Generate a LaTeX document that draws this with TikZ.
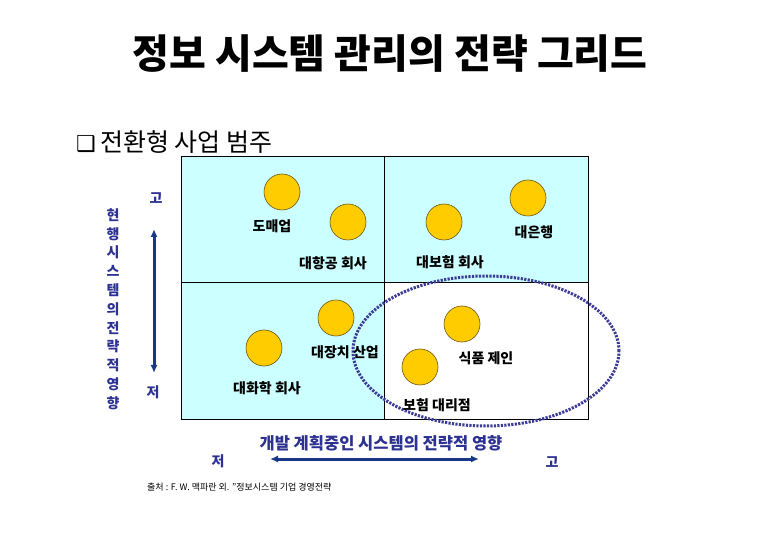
\documentclass[tikz,border=0pt]{standalone}
\usepackage{fontspec}
\setmainfont{Noto Sans CJK KR}
\newfontfamily\symfont{DejaVu Sans}
\usetikzlibrary{arrows.meta,shapes.geometric}
\definecolor{cellcyan}{RGB}{204,255,255}
\definecolor{discgold}{RGB}{255,204,0}
\definecolor{discrim}{RGB}{105,85,20}
\definecolor{axisblue}{RGB}{45,50,145}
\definecolor{arrowblue}{RGB}{25,55,135}
\definecolor{ringblue}{RGB}{60,60,150}

\begin{document}
\begin{tikzpicture}[x=1pt,y=-1pt, every node/.style={inner sep=0pt},
  quad/.style={draw=black,line width=0.9pt,fill=cellcyan,anchor=north west},
  disc/.style={circle,draw=discrim,fill=discgold,line width=0.6pt,minimum size=36pt},
  firm/.style={font=\fontsize{14}{16}\selectfont\bfseries},
  axis/.style={text=axisblue,font=\fontsize{14}{18.8}\selectfont\bfseries},
  % the ring is what marks the strategic quadrant, so it lies over the grid lines
  ring/.style={ellipse,draw=ringblue,line width=3pt,dash pattern=on 2.2pt off 1.3pt,
               minimum width=266pt,minimum height=150pt},
  ar/.style={{Latex[length=8pt,width=7pt]}-{Latex[length=8pt,width=7pt]},draw=arrowblue,line width=3pt}]

\useasboundingbox (0,0) rectangle (780,540);

\node[font=\fontsize{40}{46}\selectfont\bfseries] (title) at (390,54) {정보 시스템 관리의 전략 그리드};
\node[anchor=west,font=\fontsize{25}{30}\selectfont] (sub) at (76,142)
  {{\symfont\fontsize{22}{26}\selectfont ❑}\,전환형 사업 범주};

\node[quad,minimum width=203pt,minimum height=126pt] (hl) at (181,156) {};
\node[quad,minimum width=204pt,minimum height=126pt] (hh) at (384,156) {};
\node[quad,minimum width=203pt,minimum height=137pt] (ll) at (181,282) {};
\node[quad,fill=white,minimum width=204pt,minimum height=137pt] (lh) at (384,282) {};

\node[ring] (focus) at (486,351) {};

\foreach \n/\x/\y in {wholesale/282/192,airline/348/222,insurer/444/222,bank/528/198,
                      plant/336/318,chemical/264/348,food/462/324,agency/420/367}
  \node[disc] (\n) at (\x,\y) {};

\foreach \n/\x/\y/\t in {wholesale/272/226/도매업,airline/333/263/대항공 회사,
                         insurer/450/262/대보험 회사,bank/534/232/대은행,
                         plant/345/352/대장치 산업,chemical/267/388/대화학 회사,
                         food/486/358/식품 제인,agency/437/405/보험 대리점}
  \node[firm] (\n txt) at (\x,\y) {\t};

% vertical axis
\node[axis,align=center] (vaxis) at (113,309) {현\\행\\시\\스\\템\\의\\전\\략\\적\\영\\향};
\node[axis] (vhi) at (156,198) {고};
\node[axis] (vlo) at (153,392) {저};
\coordinate (vtop) at (154,229);
\coordinate (vbot) at (154,373);
\draw[ar] (vtop) -- (vbot);

% horizontal axis
\node[axis,font=\fontsize{16.5}{20}\selectfont\bfseries] (haxis) at (381,443) {개발 계획중인 시스템의 전략적 영향};
\node[axis] (hlo) at (218,461) {저};
\node[axis] (hhi) at (552,462) {고};
\coordinate (hleft) at (270,459);
\coordinate (hright) at (479,459);
\draw[ar] (hleft) -- (hright);

\node[anchor=west,font=\fontsize{9}{11}\selectfont] (source) at (147,487)
  {출처 : F. W. 맥파란 외. "정보시스템 기업 경영전략};
\end{tikzpicture}
\end{document}
